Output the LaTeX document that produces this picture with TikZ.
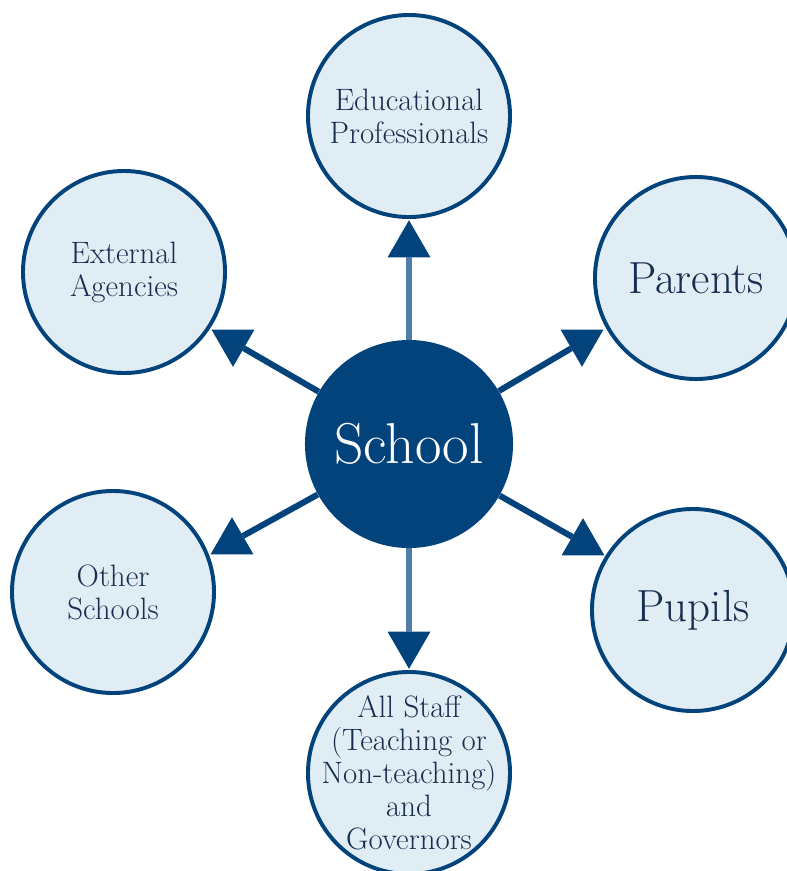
\documentclass[tikz,border=0pt]{standalone}
\usepackage{tikz}
\usetikzlibrary{shapes.geometric}

\definecolor{navy}{RGB}{3,67,124}
\definecolor{paleblue}{RGB}{225,237,244}
\definecolor{inkblue}{RGB}{24,46,80}
\definecolor{stemblue}{RGB}{80,125,172}

\tikzset{
  hub/.style={circle,fill=navy,minimum size=5.2cm,inner sep=0pt,text=white,font=\fontsize{41}{44}\selectfont},
  lbl/.style={text=inkblue,align=center,font=\fontsize{22}{23.5}\selectfont},
  bubble/.style={circle,draw=navy,line width=2.8pt,fill=paleblue,minimum size=5.05cm,inner sep=0pt,lbl},
  bigtext/.style={font=\fontsize{32}{34}\selectfont},
  headup/.style={regular polygon,regular polygon sides=3,fill=navy,minimum size=1.24cm,inner sep=0pt,outer sep=0pt},
  headdown/.style={headup,shape border rotate=180},
  link/.style={navy,line width=4.3pt},
  stem/.style={stemblue,line width=4.3pt}
}

\begin{document}
\begin{tikzpicture}[x=0.025cm,y=-0.025cm]
	\clip (0,0) rectangle (787,871);
	% centre
	\node[hub] (school) at (409,444) {School};
	
	% outer circles
	\node[bubble] (edu) at (409,116) {Educational\\Professionals};
	\node[bubble] (ext) at (124,272) {External\\Agencies};
	\node[bubble,bigtext] (par) at (696,278) {Parents};
	\node[bubble] (oth) at (113,592) {Other\\Schools};
	\node[bubble,bigtext] (pup) at (693,610) {Pupils};
	\node[bubble] (staff) at (409,773) {};
	\node[lbl] (staffTxt) at (staff) {All Staff\\(Teaching or\\Non-teaching)\\and\\Governors};
	
	% arrow heads
	\node[headup] (hEdu) at (409,245) {};
	\node[headdown] (hExt) at (233,342) {};
	\node[headdown] (hPar) at (582,342) {};
	\node[headup] (hOth) at (232,542) {};
	\node[headup] (hPup) at (583,543) {};
	\node[headdown] (hStaff) at (409,644) {};
	
	\foreach \from/\to in {school/hExt,school/hPar,school/hOth,school/hPup}
	\draw[link] (\from) -- (\to);
	\foreach \from/\to in {school/hEdu,school/hStaff}
	\draw[stem] (\from) -- (\to);
\end{tikzpicture}
\end{document}
